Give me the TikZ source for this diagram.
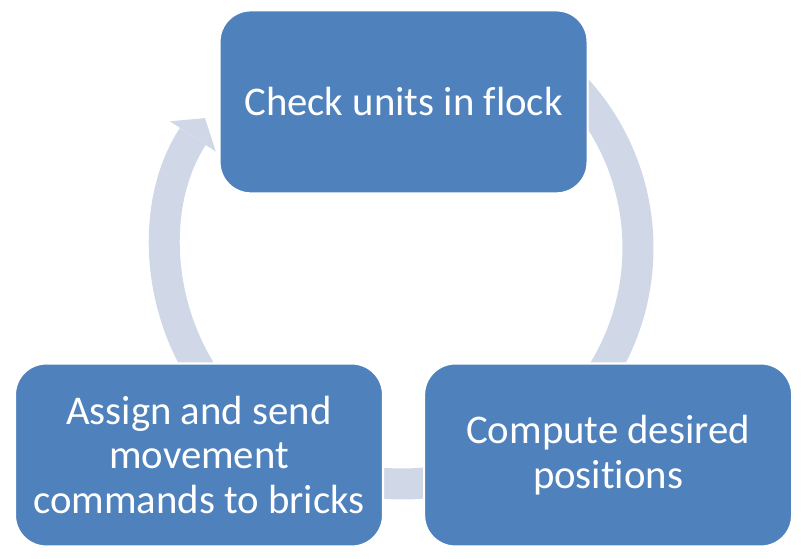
\documentclass[tikz,border=0pt]{standalone}
\usepackage{fontspec}
\setmainfont[Ligatures=NoCommon]{Carlito}
\usetikzlibrary{arrows.meta, positioning, calc}

\definecolor{boxblue}{RGB}{79,129,189}
\definecolor{ringgrey}{RGB}{208,216,232}

\begin{document}
\begin{tikzpicture}[
        stepbox/.style={draw=white, line width=1.5pt, fill=boxblue, rounded corners=0.78cm,
            minimum width=9.2cm, minimum height=4.575cm, text=white, align=center,
            font=\fontsize{29}{32}\selectfont},
        ring/.style={draw=ringgrey, line width=0.775cm}
    ]
        \useasboundingbox (0,0) rectangle (20.225,13.975);
        \coordinate (hub) at (10.05,7.775);

        % Ring (under the boxes)
        \draw[ring] ($(hub)+(42:5.9)$) arc[start angle=42, end angle=-40, radius=5.9cm];
        \draw[ring] ($(hub)+(-75:5.9)$) arc[start angle=-75, end angle=-105, radius=5.9cm];
        \draw[ring, -{Triangle[width=1.375cm, length=0.55cm, line width=0pt]}] ($(hub)+(215:5.9)$) arc[start angle=215, end angle=146.6, radius=5.9cm];

        % Nodes
        \node[stepbox] (assign) at (4.975,2.6) {Assign and send\\movement\\commands to bricks};
        \node[stepbox, right=0.975cm of assign] (compute) {Compute desired\\positions};
        \coordinate (gap) at ($(assign.north)!0.5!(compute.north)$);
        \node[stepbox, above=4.2cm of gap] (check) {Check units in flock};
    \end{tikzpicture}
\end{document}
